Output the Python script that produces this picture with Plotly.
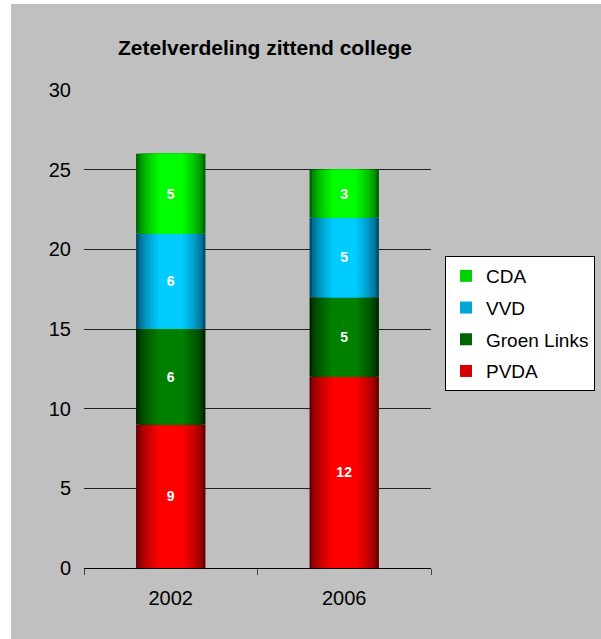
import numpy as np
import plotly.graph_objects as go

years = ["2002", "2006"]
parties = ["PVDA", "Groen Links", "VVD", "CDA"]
seats = {
    "PVDA": [9, 12],
    "Groen Links": [6, 5],
    "VVD": [6, 5],
    "CDA": [5, 3],
}

# edge colour -> centre colour, to fake the cylinder shading
shades = {
    "PVDA": ((105, 0, 0), (255, 0, 0)),
    "Groen Links": ((0, 38, 0), (0, 128, 0)),
    "VVD": ((0, 78, 110), (0, 204, 255)),
    "CDA": ((0, 100, 0), (0, 255, 0)),
}
legend_rank = {"CDA": 1, "VVD": 2, "Groen Links": 3, "PVDA": 4}

font = "Liberation Sans, Arial, sans-serif"
bar_w = 0.4
n_layers = 10

fig = go.Figure()

base = np.zeros(len(years))
for p in parties:
    vals = np.array(seats[p])
    lo, hi = shades[p]
    for k in range(n_layers):
        t = (k / (n_layers - 1)) ** 0.6
        c = tuple(int(round(lo[i] + (hi[i] - lo[i]) * t)) for i in range(3))
        w = bar_w - k * (bar_w - 0.14) / (n_layers - 1)
        fig.add_trace(go.Bar(
            x=years, y=vals, base=base, width=w,
            marker=dict(color="rgb(%d,%d,%d)" % c, line=dict(width=0)),
            name=p, legendgroup=p, legendrank=legend_rank[p],
            showlegend=(k == n_layers // 2), hoverinfo="skip",
        ))
    # transparent bar on top carrying the value label
    fig.add_trace(go.Bar(
        x=years, y=vals, base=base, width=bar_w,
        marker=dict(color="rgba(0,0,0,0)", line=dict(width=0)),
        text=[str(v) for v in vals], textposition="inside",
        insidetextanchor="middle", constraintext="none",
        textfont=dict(family=font, size=14, color="white", weight="bold"),
        showlegend=False, legendgroup=p, name=p,
    ))
    base = base + vals

fig.update_layout(
    width=601, height=639,
    margin=dict(l=84, r=170, t=90, b=71, autoexpand=False),
    barmode="overlay",
    paper_bgcolor="white",
    plot_bgcolor="white",
    font=dict(family=font, size=20, color="black"),
    title=dict(
        text="<b>Zetelverdeling zittend college</b>",
        font=dict(family=font, size=21, color="black"),
        x=0.5216, xref="paper", xanchor="center",
        y=1 - 48 / 639, yref="container", yanchor="middle",
    ),
    legend=dict(
        x=1.0403, xanchor="left", y=0.6527, yanchor="top",
        bgcolor="white", bordercolor="black", borderwidth=1,
        font=dict(family=font, size=19, color="black"),
        tracegroupgap=4,
    ),
    showlegend=True,
    shapes=[dict(
        type="rect", xref="paper", yref="paper",
        x0=-0.2104, x1=1.55, y0=-0.2, y1=1.1799,
        fillcolor="#c0c0c0", line=dict(width=0), layer="below",
    )],
)

fig.update_xaxes(
    type="category", tickson="boundaries",
    showline=True, linecolor="black", linewidth=1,
    ticks="outside", ticklen=6, tickcolor="#444",
    ticklabelstandoff=12, showgrid=False,
)
fig.update_yaxes(
    range=[0, 30], dtick=5, showgrid=True,
    gridcolor="#222", gridwidth=1, zeroline=False,
    showline=False, ticklabelstandoff=12,
)

# page body has a default 8px margin; drop it so the figure sits at 0,0
fig.write_html("out.html", config={"displayModeBar": False},
               post_script="document.body.style.margin='0';")
